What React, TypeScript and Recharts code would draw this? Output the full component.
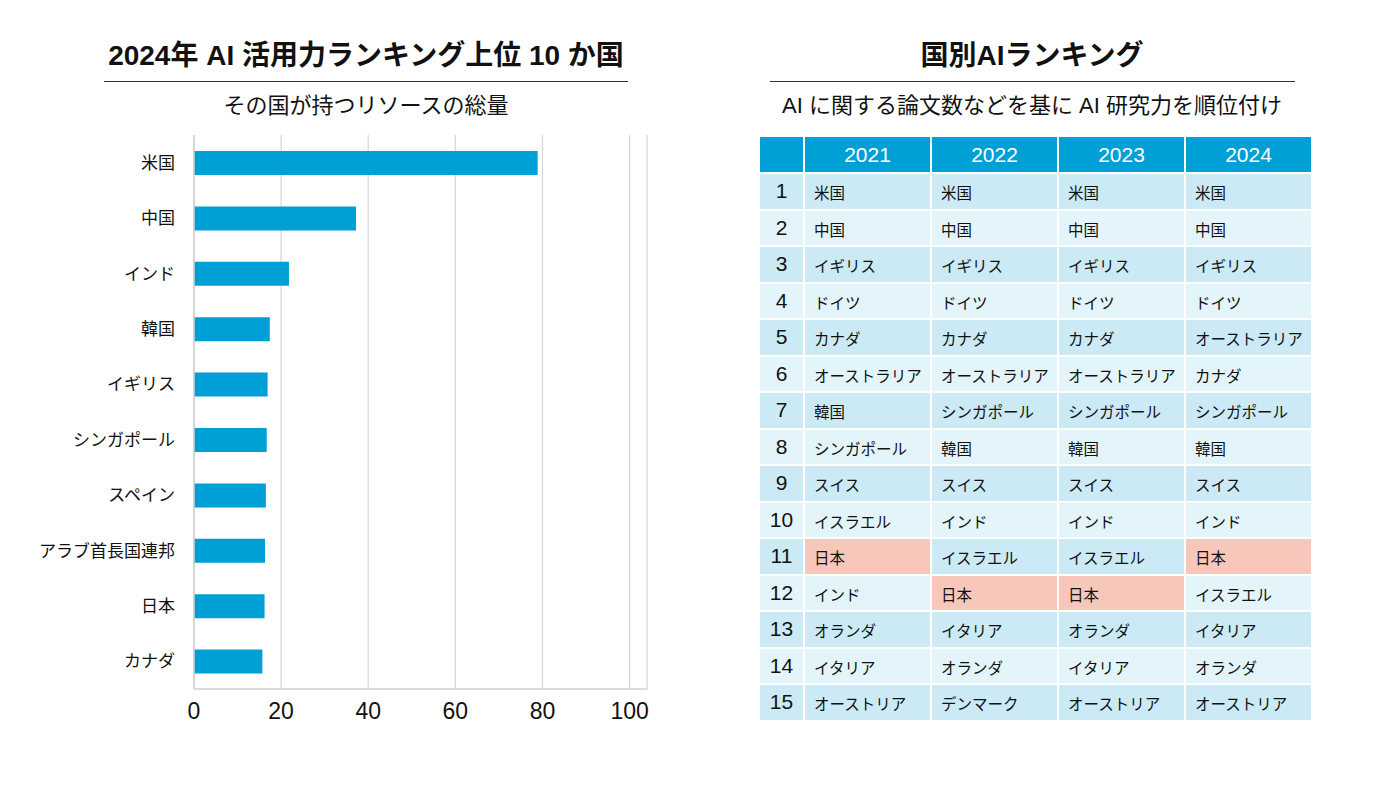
import React from 'react';
import { BarChart, Bar, XAxis, YAxis, CartesianGrid } from 'recharts';

const countries = ['米国', '中国', 'インド', '韓国', 'イギリス', 'シンガポール', 'スペイン', 'アラブ首長国連邦', '日本', 'カナダ'];
const resourceValues = [78.9, 37.2, 21.8, 17.4, 16.9, 16.7, 16.5, 16.3, 16.2, 15.7];
const xTicks = [0, 20, 40, 60, 80, 100];

const years = ['2021', '2022', '2023', '2024'];
const ranks = [1, 2, 3, 4, 5, 6, 7, 8, 9, 10, 11, 12, 13, 14, 15];
const rank2021 = ['米国', '中国', 'イギリス', 'ドイツ', 'カナダ', 'オーストラリア', '韓国', 'シンガポール', 'スイス', 'イスラエル', '日本', 'インド', 'オランダ', 'イタリア', 'オーストリア'];
const rank2022 = ['米国', '中国', 'イギリス', 'ドイツ', 'カナダ', 'オーストラリア', 'シンガポール', '韓国', 'スイス', 'インド', 'イスラエル', '日本', 'イタリア', 'オランダ', 'デンマーク'];
const rank2023 = ['米国', '中国', 'イギリス', 'ドイツ', 'カナダ', 'オーストラリア', 'シンガポール', '韓国', 'スイス', 'インド', 'イスラエル', '日本', 'オランダ', 'イタリア', 'オーストリア'];
const rank2024 = ['米国', '中国', 'イギリス', 'ドイツ', 'オーストラリア', 'カナダ', 'シンガポール', '韓国', 'スイス', 'インド', '日本', 'イスラエル', 'イタリア', 'オランダ', 'オーストリア'];
const highlightCountry = '日本';

const FONT = '"Liberation Sans", "Noto Sans CJK JP", sans-serif';
const BLUE = '#00a0d6';
const ROW_A = '#cbeaf6';
const ROW_B = '#e3f4fb';
const HIGHLIGHT = '#f8c7bb';

const barData = countries.map((name, i) => ({ name, value: resourceValues[i] }));
const yearCols = [rank2021, rank2022, rank2023, rank2024];

function Heading({ cx, title, sub, lineW }: { cx: number; title: string; sub: string; lineW: number }) {
  return (
    <>
      <div style={{ position: 'absolute', left: cx - 300, width: 600, top: 38, textAlign: 'center', fontSize: 28, fontWeight: 700, color: '#111', lineHeight: '36px', whiteSpace: 'nowrap' }}>{title}</div>
      <div style={{ position: 'absolute', left: cx - lineW / 2, width: lineW, top: 81, height: 1, background: '#333' }} />
      <div style={{ position: 'absolute', left: cx - 300, width: 600, top: 91, textAlign: 'center', fontSize: 22, color: '#111', lineHeight: '30px', whiteSpace: 'nowrap' }}>{sub}</div>
    </>
  );
}

function RankTable() {
  const rankW = 43;
  const colW = 125;
  const gap = 2;
  const headH = 35;
  const rowH = 34.5;
  const cell = (bg: string, w: number, extra: React.CSSProperties, content: React.ReactNode, key: string) => (
    <div key={key} style={{ width: w, height: '100%', background: bg, display: 'flex', alignItems: 'center', boxSizing: 'border-box', ...extra }}>{content}</div>
  );
  return (
    <div style={{ position: 'absolute', left: 760, top: 137, width: rankW + 4 * colW + 4 * gap, display: 'flex', flexDirection: 'column', gap }}>
      <div style={{ display: 'flex', gap, height: headH }}>
        {cell(BLUE, rankW, {}, null, 'h0')}
        {years.map((y) => cell(BLUE, colW, { justifyContent: 'center', color: '#fff', fontSize: 21 }, y, 'h' + y))}
      </div>
      {ranks.map((r, ri) => {
        const bg = ri % 2 === 0 ? ROW_A : ROW_B;
        return (
          <div key={r} style={{ display: 'flex', gap, height: rowH }}>
            {cell(bg, rankW, { justifyContent: 'center', fontSize: 21, color: '#111' }, r, 'r' + r)}
            {yearCols.map((col, ci) => {
              const name = col[ri];
              return cell(name === highlightCountry ? HIGHLIGHT : bg, colW, { paddingLeft: 9, fontSize: 15.5, color: '#111', paddingTop: 2 }, name, 'c' + r + '-' + ci);
            })}
          </div>
        );
      })}
    </div>
  );
}

export default function App() {
  return (
    <div style={{ position: 'absolute', left: 0, top: 0, width: 1400, height: 787, background: '#fff', fontFamily: FONT, overflow: 'hidden' }}>
      <Heading cx={366} title="2024年 AI 活用力ランキング上位 10 か国" sub="その国が持つリソースの総量" lineW={524} />
      <Heading cx={1032} title="国別AIランキング" sub="AI に関する論文数などを基に AI 研究力を順位付け" lineW={525} />
      <div style={{ position: 'absolute', left: 0, top: 0 }}>
        <BarChart
          width={660}
          height={787}
          data={barData}
          layout="vertical"
          margin={{ top: 135, right: 13, bottom: 58, left: 0 }}
          barSize={24}
        >
          <CartesianGrid horizontal={false} stroke="#d6d6d6" strokeWidth={1.2} />
          <XAxis
            type="number"
            domain={[0, 104]}
            ticks={xTicks}
            interval={0}
            axisLine={{ stroke: '#d0d0d0', strokeWidth: 1.5 }}
            tickLine={false}
            tickSize={0}
            tickMargin={14}
            tick={{ fontSize: 23, fill: '#111', fontFamily: FONT }}
            height={40}
          />
          <YAxis
            type="category"
            dataKey="name"
            width={194}
            axisLine={{ stroke: '#d0d0d0', strokeWidth: 1.5 }}
            tickLine={false}
            tickSize={0}
            tickMargin={19}
            interval={0}
            tick={{ fontSize: 17, fill: '#111', fontFamily: FONT }}
          />
          <Bar dataKey="value" fill={BLUE} isAnimationActive={false} />
        </BarChart>
      </div>
      <RankTable />
    </div>
  );
}
